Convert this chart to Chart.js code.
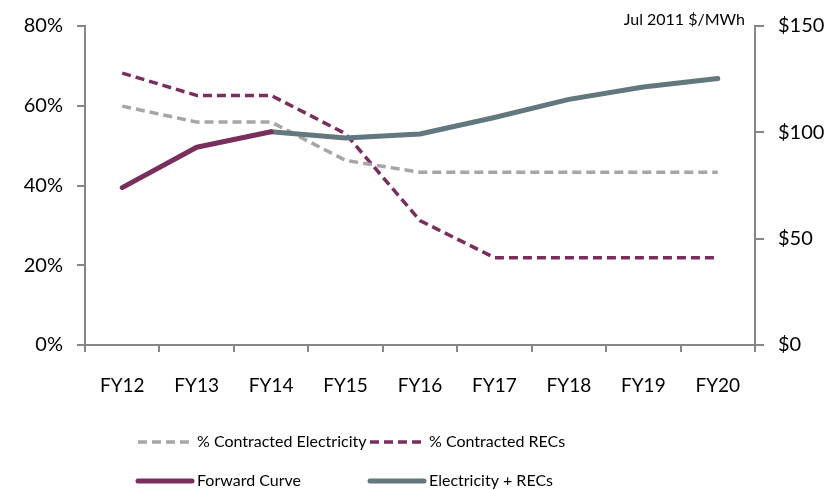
<!DOCTYPE html>
<html>
<head>
<meta charset="utf-8">
<script src="https://cdn.jsdelivr.net/npm/chart.js@4/dist/chart.umd.min.js"></script>
<style>
  html, body { margin: 0; padding: 0; background: #fff; }
  #wrap { width: 838px; height: 490px; }
</style>
</head>
<body>
<div id="wrap"><canvas id="chart" width="838" height="490"></canvas></div>
<script>
// categories
const years = ["FY12", "FY13", "FY14", "FY15", "FY16", "FY17", "FY18", "FY19", "FY20"];

// % contracted (left axis)
const contractedElectricity = [59.9, 55.9, 55.9, 46.3, 43.3, 43.3, 43.3, 43.3, 43.3];
const contractedRECs = [68.2, 62.6, 62.6, 53.0, 31.2, 21.9, 21.9, 21.9, 21.9];

// price, Jul 2011 $/MWh (right axis)
const forwardCurve = [74, 93, 100.3, null, null, null, null, null, null];
const electricityRECs = [null, null, 100.3, 97.3, 99.2, 107, 115.5, 121.3, 125.3];

// axis ticks
const pctTicks = [0, 20, 40, 60, 80];
const priceTicks = [0, 50, 100, 150];

const MAROON = "#7a2e5c";
const LIGHT_GRAY = "#a6a6a6";
const SLATE = "#62777e";
const AXIS = "#868686";
const FONT = "Lato, 'Open Sans', sans-serif";

// legend in two columns + unit label above the right axis
const extrasPlugin = {
    id: "extras",
    afterDraw(chart) {
        const ctx = chart.ctx;
        const area = chart.chartArea;
        ctx.save();

        ctx.font = "16px " + FONT;
        ctx.fillStyle = "#000";
        ctx.textAlign = "right";
        ctx.textBaseline = "alphabetic";
        ctx.fillText("Jul 2011 $/MWh", area.right - 10, 25);

        const colX = [138, 370];
        const rowY = [442, 481];
        chart.data.datasets.forEach((ds, i) => {
            const x = colX[i % 2];
            const y = rowY[Math.floor(i / 2)];
            ctx.strokeStyle = ds.borderColor;
            ctx.lineWidth = ds.borderWidth;
            ctx.lineCap = ds.borderDash ? "butt" : "round";
            ctx.setLineDash(ds.borderDash || []);
            ctx.beginPath();
            ctx.moveTo(x, y);
            ctx.lineTo(x + 54, y);
            ctx.stroke();
            ctx.setLineDash([]);
            ctx.font = "16px " + FONT;
            ctx.fillStyle = "#000";
            ctx.textAlign = "left";
            ctx.textBaseline = "middle";
            ctx.fillText(ds.label, x + 59, y);
        });
        ctx.restore();
    }
};

const ctx = document.getElementById("chart").getContext("2d");
new Chart(ctx, {
    type: "line",
    data: {
        labels: years,
        datasets: [
            {
                label: "% Contracted Electricity",
                data: contractedElectricity,
                yAxisID: "y",
                borderColor: LIGHT_GRAY,
                borderWidth: 3.5,
                borderDash: [9, 5],
                order: 2
            },
            {
                label: "% Contracted RECs",
                data: contractedRECs,
                yAxisID: "y",
                borderColor: MAROON,
                borderWidth: 3.5,
                borderDash: [9, 5],
                order: 2
            },
            {
                label: "Forward Curve",
                data: forwardCurve,
                yAxisID: "y1",
                borderColor: MAROON,
                borderWidth: 5,
                borderCapStyle: "round",
                order: 1
            },
            {
                label: "Electricity + RECs",
                data: electricityRECs,
                yAxisID: "y1",
                borderColor: SLATE,
                borderWidth: 5,
                borderCapStyle: "round",
                order: 1
            }
        ]
    },
    options: {
        responsive: false,
        animation: false,
        layout: { padding: { top: 25, left: 0, right: 0, bottom: 0 } },
        elements: {
            point: { radius: 0, hoverRadius: 0 },
            line: { tension: 0, fill: false, borderJoinStyle: "round" }
        },
        plugins: {
            legend: { display: false },
            tooltip: { enabled: false }
        },
        scales: {
            x: {
                type: "category",
                offset: true,
                grid: {
                    drawOnChartArea: false,
                    offset: true,
                    tickLength: 7,
                    color: AXIS,
                    lineWidth: 2
                },
                border: { color: AXIS, width: 2 },
                ticks: {
                    color: "#000",
                    padding: 22,
                    font: { family: FONT, size: 19 },
                    maxRotation: 0
                },
                afterFit(scale) { scale.height = 145; }
            },
            y: {
                position: "left",
                min: 0,
                max: 80,
                afterBuildTicks(scale) { scale.ticks = pctTicks.map(v => ({ value: v })); },
                grid: {
                    drawOnChartArea: false,
                    tickLength: 8,
                    color: AXIS,
                    lineWidth: 2
                },
                border: { color: AXIS, width: 2 },
                ticks: {
                    color: "#000",
                    padding: 14,
                    font: { family: FONT, size: 20 },
                    callback: v => v + "%"
                },
                afterFit(scale) { scale.width = 85; }
            },
            y1: {
                position: "right",
                min: 0,
                max: 150,
                afterBuildTicks(scale) { scale.ticks = priceTicks.map(v => ({ value: v })); },
                grid: {
                    drawOnChartArea: false,
                    tickLength: 9,
                    color: AXIS,
                    lineWidth: 2
                },
                border: { color: AXIS, width: 2 },
                ticks: {
                    color: "#000",
                    padding: 14,
                    font: { family: FONT, size: 20 },
                    callback: v => "$" + v
                },
                afterFit(scale) { scale.width = 83; }
            }
        }
    },
    plugins: [extrasPlugin]
});
</script>
</body>
</html>
